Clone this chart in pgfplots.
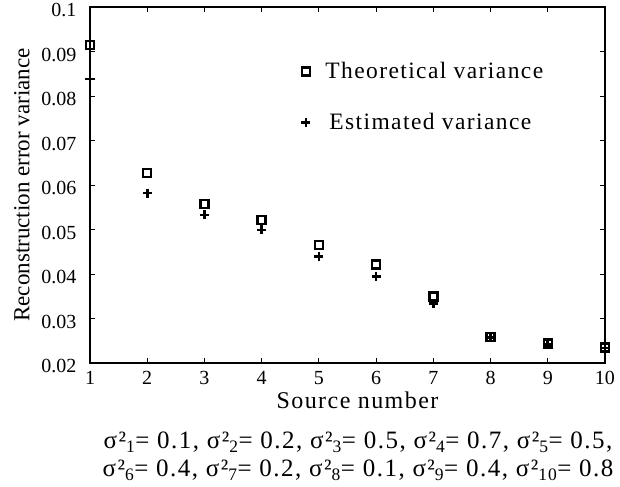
\documentclass[border=0pt]{standalone}
\usepackage{pgfplots}
\pgfplotsset{compat=1.18}
\usepackage{fontspec}
\setmainfont{Liberation Serif}
\newfontfamily\spaced[LetterSpace=6]{Liberation Serif}
\begin{document}
\begin{tikzpicture}
\path[use as bounding box] (0,0) rectangle (620bp,487bp);
\begin{axis}[
  at={(90bp,124bp)}, anchor=south west,
  scale only axis, width=515bp, height=356bp,
  xmin=1, xmax=10, ymin=0.02, ymax=0.1,
  clip=false,
  xtick={1,...,10},
  ytick={0.02,0.03,0.04,0.05,0.06,0.07,0.08,0.09,0.1},
  tick align=inside, major tick length=5bp,
  axis line style={line width=1.5bp}, tick style={line width=1bp, black},
  /pgf/number format/.cd, fixed, precision=2, assume math mode=true, /pgfplots/.cd,
  scaled y ticks=false,
  tick label style={font=\fontsize{20bp}{22bp}\selectfont},
  xticklabel style={yshift=-5bp},
  yticklabel style={xshift=-10bp, yshift=-3bp},
  xlabel={Source number},
  ylabel={Reconstruction error variance},
  xlabel style={font=\spaced\fontsize{24bp}{26bp}\selectfont, yshift=0bp, xshift=10bp},
  ylabel style={font=\fontsize{23bp}{26bp}\selectfont, yshift=5bp},
  legend style={at={(0.41,0.85)}, anchor=north west, draw=none, fill=none,
    font=\spaced\fontsize{23.5bp}{26bp}\selectfont, row sep=29bp, column sep=13bp, inner sep=0pt},
  legend cell align=left,
]
\addplot[only marks, mark=square, mark size=4bp, line width=2.4bp, black] coordinates {
(1,0.0915) (2,0.0627) (3,0.0557) (4,0.0521) (5,0.0465) (6,0.0421) (7,0.0349) (8,0.0259) (9,0.0244) (10,0.0235)
};
\addlegendentry{Theoretical variance}
\addplot[only marks, mark=+, mark size=4.5bp, line width=2.6bp, black] coordinates {
(1,0.0838) (2,0.0582) (3,0.0533) (4,0.0499) (5,0.0439) (6,0.0394) (7,0.0334) (8,0.0257) (9,0.0242) (10,0.0234)
};
\addlegendentry{\hspace{4bp}Estimated variance}
\end{axis}
\node[font=\spaced\fontsize{25bp}{28bp}\selectfont, align=center] at (358bp,31bp) {%
σ²\textsubscript{1}= 0.1, σ²\textsubscript{2}= 0.2, σ²\textsubscript{3}= 0.5, σ²\textsubscript{4}= 0.7, σ²\textsubscript{5}= 0.5,\\
σ²\textsubscript{6}= 0.4, σ²\textsubscript{7}= 0.2, σ²\textsubscript{8}= 0.1, σ²\textsubscript{9}= 0.4, σ²\textsubscript{10}= 0.8};
\end{tikzpicture}
\end{document}
